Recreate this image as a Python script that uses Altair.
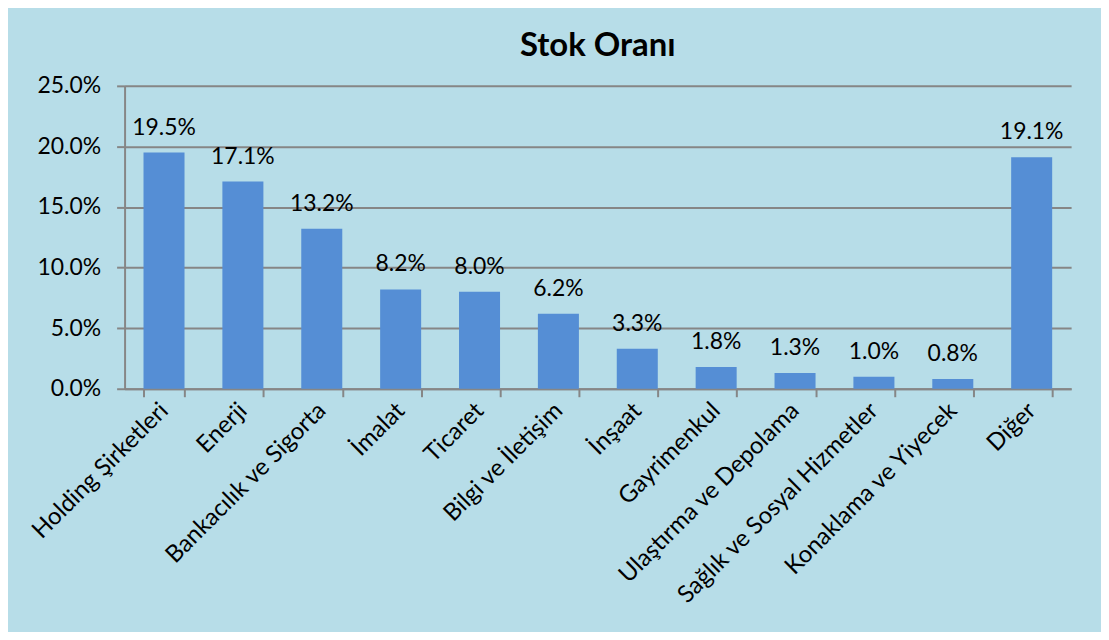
import altair as alt
import pandas as pd

categories = ["Holding Şirketleri", "Enerji", "Bankacılık ve Sigorta", "İmalat", "Ticaret",
              "Bilgi ve İletişim", "İnşaat", "Gayrimenkul", "Ulaştırma ve Depolama",
              "Sağlık ve Sosyal Hizmetler", "Konaklama ve Yiyecek", "Diğer"]
values = [0.195, 0.171, 0.132, 0.082, 0.080, 0.062, 0.033, 0.018, 0.013, 0.010, 0.008, 0.191]

df = pd.DataFrame({"cat": categories, "val": values})

FONT = "Lato"
GRAY = "#868686"

x = alt.X("cat:N", sort=categories, title=None,
          scale=alt.Scale(paddingInner=0.48, paddingOuter=0.24),
          axis=alt.Axis(labelAngle=-45, labelAlign="right", labelBaseline="middle",
                        labelFontSize=24, labelFont=FONT, labelColor="black",
                        labelPadding=10, labelLimit=400, tickBand="extent",
                        tickSize=8, tickColor=GRAY, tickWidth=2,
                        domainColor=GRAY, domainWidth=2, grid=False))
y = alt.Y("val:Q", title=None,
          scale=alt.Scale(domain=[0, 0.25], nice=False),
          axis=alt.Axis(format=".1%", values=[0, 0.05, 0.10, 0.15, 0.20, 0.25],
                        labelFontSize=23, labelFont=FONT, labelColor="black",
                        labelPadding=16, tickSize=8, tickColor=GRAY, tickWidth=2,
                        domainColor=GRAY, domainWidth=2,
                        grid=True, gridColor=GRAY, gridWidth=2))

bars = alt.Chart(df).mark_bar(color="#558ED5").encode(x=x, y=y)
labels = alt.Chart(df).mark_text(font=FONT, fontSize=23, color="black",
                                 baseline="alphabetic", dy=-18).encode(
    x=alt.X("cat:N", sort=categories), y="val:Q", text=alt.Text("val:Q", format=".1%"))

chart = (bars + labels).properties(
    width=950, height=304,
    title=alt.TitleParams("Stok Oranı", font=FONT, fontSize=33, fontWeight="bold",
                          color="black", anchor="middle", offset=12),
    background="#B7DDE8",
    padding={"left": 117, "top": 77, "right": 30, "bottom": 243},
    autosize=alt.AutoSizeParams(type="none"),
).configure_view(stroke=None)

chart.save("out.html", embed_options={"renderer": "svg", "actions": False})
